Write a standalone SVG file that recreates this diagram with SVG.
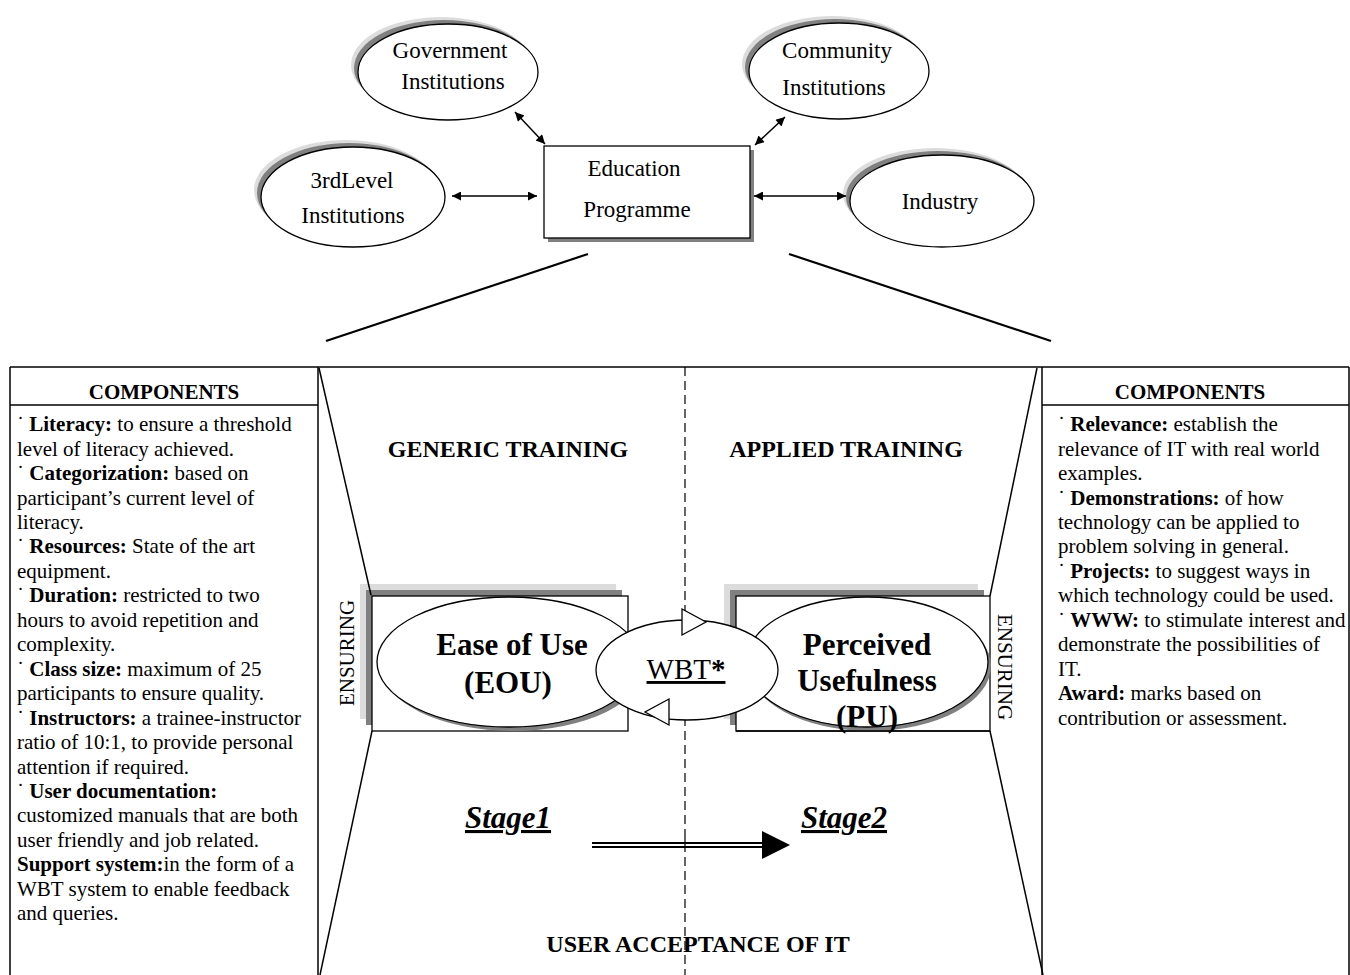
<svg xmlns="http://www.w3.org/2000/svg" width="1350" height="975" viewBox="0 0 1350 975">
<defs>
<style>
text{font-family:"Liberation Serif","Times New Roman",serif;fill:#000}
.t23{font-size:23px;text-anchor:middle}
.p{font-size:21px}
.b{font-weight:bold}
.h{font-size:21px;font-weight:bold;text-anchor:middle}
.h24{font-size:24px;font-weight:bold;text-anchor:middle}
.big{font-size:31px;font-weight:bold;text-anchor:middle}
.stage{font-size:31px;font-weight:bold;font-style:italic;text-decoration:underline;text-anchor:middle}
.ol{fill:#fff;stroke:#000;stroke-width:1.3}
.sd{fill:#808080;stroke:none}
.sl{fill:#dcdcdc;stroke:none}
.ln{stroke:#000;stroke-width:1.5;fill:none}
.con{stroke:#000;stroke-width:1.5;fill:none;marker-start:url(#ah);marker-end:url(#ah)}
</style>
<marker id="ah" viewBox="0 0 10 10" refX="10" refY="5" markerWidth="11" markerHeight="9" markerUnits="userSpaceOnUse" orient="auto-start-reverse">
<path d="M0,0 L10,5 L0,10 z" fill="#000"/>
</marker>
</defs>
<rect width="1350" height="975" fill="#fff"/>

<!-- top nodes -->
<g id="node-government">
<ellipse class="sl" cx="441" cy="65" rx="90" ry="48"/>
<ellipse class="sd" cx="444" cy="68" rx="90" ry="48"/>
<ellipse class="ol" cx="448" cy="72" rx="90" ry="48"/>
<text class="t23" x="450" y="58">Government</text>
<text class="t23" x="453" y="89">Institutions</text>
</g>
<g id="node-community">
<ellipse class="sl" cx="832" cy="64" rx="90" ry="48"/>
<ellipse class="sd" cx="835" cy="67" rx="90" ry="48"/>
<ellipse class="ol" cx="839" cy="71" rx="90" ry="48"/>
<text class="t23" x="837" y="58">Community</text>
<text class="t23" x="834" y="95">Institutions</text>
</g>
<g id="node-3rdlevel">
<ellipse class="sl" cx="346" cy="190" rx="92" ry="50"/>
<ellipse class="sd" cx="349" cy="193" rx="92" ry="50"/>
<ellipse class="ol" cx="353" cy="197" rx="92" ry="50"/>
<text class="t23" x="352" y="188">3rdLevel</text>
<text class="t23" x="353" y="223">Institutions</text>
</g>
<g id="node-industry">
<ellipse class="sl" cx="935" cy="194" rx="92" ry="46"/>
<ellipse class="sd" cx="938" cy="197" rx="92" ry="46"/>
<ellipse class="ol" cx="942" cy="201" rx="92" ry="46"/>
<text class="t23" x="940" y="209">Industry</text>
</g>
<g id="node-education">
<rect class="sd" x="548" y="150" width="206" height="92"/>
<rect class="ol" x="544" y="146" width="206" height="92"/>
<text class="t23" x="634" y="176">Education</text>
<text class="t23" x="637" y="217">Programme</text>
</g>

<g id="connectors">
<line class="con" x1="515" y1="112" x2="545" y2="144"/>
<line class="con" x1="785" y1="117" x2="755" y2="145"/>
<line class="con" x1="452" y1="196" x2="537" y2="196"/>
<line class="con" x1="754" y1="196" x2="846" y2="196"/>
<line stroke="#000" stroke-width="2.2" x1="588" y1="254" x2="326" y2="341"/>
<line stroke="#000" stroke-width="2.2" x1="789" y1="254" x2="1051" y2="341"/>
</g>

<!-- frame -->
<g id="frame">
<line class="ln" x1="10" y1="367" x2="1349" y2="367"/>
<line class="ln" x1="10" y1="367" x2="10" y2="975"/>
<line class="ln" x1="318" y1="367" x2="318" y2="975"/>
<line class="ln" x1="1042" y1="367" x2="1042" y2="975"/>
<line class="ln" x1="1349" y1="367" x2="1349" y2="975"/>
<line class="ln" x1="10" y1="405" x2="318" y2="405"/>
<line class="ln" x1="1042" y1="405" x2="1349" y2="405"/>
<line stroke="#000" stroke-width="1.2" stroke-dasharray="9 5" x1="685" y1="367" x2="685" y2="975"/>
</g>

<g id="node-left-components">
<text class="h" x="164" y="399">COMPONENTS</text>
<text class="p" x="17" y="431">˙ <tspan class="b">Literacy:</tspan> to ensure a threshold</text>
<text class="p" x="17" y="455.5">level of literacy achieved.</text>
<text class="p" x="17" y="480">˙ <tspan class="b">Categorization:</tspan> based on</text>
<text class="p" x="17" y="504.5">participant’s current level of</text>
<text class="p" x="17" y="529">literacy.</text>
<text class="p" x="17" y="553">˙ <tspan class="b">Resources:</tspan> State of the art</text>
<text class="p" x="17" y="578">equipment.</text>
<text class="p" x="17" y="602">˙ <tspan class="b">Duration:</tspan> restricted to two</text>
<text class="p" x="17" y="627">hours to avoid repetition and</text>
<text class="p" x="17" y="651">complexity.</text>
<text class="p" x="17" y="676">˙ <tspan class="b">Class size:</tspan> maximum of 25</text>
<text class="p" x="17" y="700">participants to ensure quality.</text>
<text class="p" x="17" y="724.5">˙ <tspan class="b">Instructors:</tspan> a trainee-instructor</text>
<text class="p" x="17" y="749">ratio of 10:1, to provide personal</text>
<text class="p" x="17" y="773.5">attention if required.</text>
<text class="p" x="17" y="798">˙ <tspan class="b">User documentation:</tspan></text>
<text class="p" x="17" y="822">customized manuals that are both</text>
<text class="p" x="17" y="847">user friendly and job related.</text>
<text class="p" x="17" y="871"><tspan class="b">Support system:</tspan>in the form of a</text>
<text class="p" x="17" y="895.5">WBT system to enable feedback</text>
<text class="p" x="17" y="920">and queries.</text>
</g>

<g id="node-right-components">
<text class="h" x="1190" y="399">COMPONENTS</text>
<text class="p" x="1058" y="431">˙ <tspan class="b">Relevance:</tspan> establish the</text>
<text class="p" x="1058" y="455.5">relevance of IT with real world</text>
<text class="p" x="1058" y="480">examples.</text>
<text class="p" x="1058" y="504.5">˙ <tspan class="b">Demonstrations:</tspan> of how</text>
<text class="p" x="1058" y="529">technology can be applied to</text>
<text class="p" x="1058" y="553">problem solving in general.</text>
<text class="p" x="1058" y="578">˙ <tspan class="b">Projects:</tspan> to suggest ways in</text>
<text class="p" x="1058" y="602">which technology could be used.</text>
<text class="p" x="1058" y="627">˙ <tspan class="b">WWW:</tspan> to stimulate interest and</text>
<text class="p" x="1058" y="651">demonstrate the possibilities of</text>
<text class="p" x="1058" y="676">IT.</text>
<text class="p" x="1058" y="700"><tspan class="b">Award:</tspan> marks based on</text>
<text class="p" x="1058" y="724.5">contribution or assessment.</text>
</g>

<g id="labels">
<text class="h24" x="508" y="457">GENERIC TRAINING</text>
<text class="h24" x="846" y="457">APPLIED TRAINING</text>
<text class="p" text-anchor="middle" transform="translate(354,653) rotate(-90)">ENSURING</text>
<text class="p" text-anchor="middle" transform="translate(998,667) rotate(90)">ENSURING</text>
</g>

<g id="node-eou">
<rect class="sl" x="360" y="584" width="256" height="135"/>
<rect class="sd" x="366" y="590" width="256" height="135"/>
<rect class="ol" x="372" y="596" width="256" height="135"/>
<ellipse class="sd" cx="513" cy="666" rx="132" ry="65"/>
<ellipse class="ol" cx="509" cy="662" rx="132" ry="65"/>
<text class="big" x="512" y="655">Ease of Use</text>
<text class="big" x="508" y="693">(EOU)</text>
</g>

<g id="node-pu">
<rect class="sl" x="724" y="584" width="254" height="135"/>
<rect class="sd" x="730" y="590" width="254" height="135"/>
<rect class="ol" x="736" y="596" width="254" height="135"/>
<ellipse class="sd" cx="870" cy="666" rx="121" ry="65"/>
<ellipse class="ol" cx="867" cy="662" rx="121" ry="65"/>
<text class="big" x="867" y="655">Perceived</text>
<text class="big" x="867" y="691">Usefulness</text>
<text class="big" x="867" y="727">(PU)</text>
<line class="ln" x1="736" y1="731" x2="990" y2="731"/>
</g>

<g id="frame-slants">
<line class="ln" x1="319" y1="368" x2="371" y2="595"/>
<line class="ln" x1="372" y1="731" x2="320" y2="975"/>
<line class="ln" x1="1037" y1="368" x2="990" y2="596"/>
<line class="ln" x1="990" y1="731" x2="1043" y2="975"/>
</g>

<g id="node-wbt">
<ellipse class="ol" cx="687" cy="670" rx="91" ry="50"/>
<polygon class="ol" points="682,609 706,622 682,635"/>
<polygon class="ol" points="669,699 645,712 669,725"/>
<text font-size="29" text-anchor="middle" text-decoration="underline" x="686" y="679">WBT<tspan font-weight="bold">*</tspan></text>
</g>

<g id="stages">
<text class="stage" x="508" y="828">Stage1</text>
<text class="stage" x="844" y="828">Stage2</text>
<line stroke="#000" stroke-width="6" x1="592" y1="845" x2="764" y2="845"/>
<line stroke="#fff" stroke-width="1.8" x1="592" y1="845" x2="764" y2="845"/>
<polygon points="762,831 790,845 762,859" fill="#000"/>
<line stroke="#000" stroke-width="1.2" stroke-dasharray="9 5" x1="685" y1="838" x2="685" y2="852"/>
<text class="h24" x="698" y="952">USER ACCEPTANCE OF IT</text>
</g>
</svg>
